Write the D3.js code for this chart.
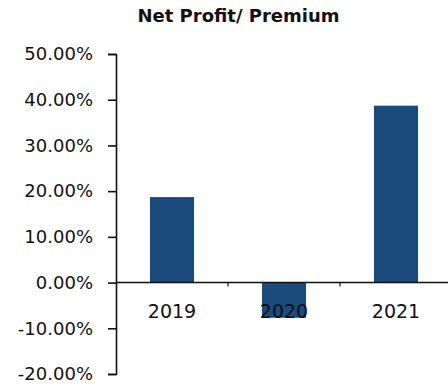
<!DOCTYPE html>
<html>
<head>
<meta charset="utf-8">
<script src="https://cdn.jsdelivr.net/npm/d3@7"></script>
<style>
  html, body { margin: 0; padding: 0; background: #fff; }
  svg { display: block; }
</style>
</head>
<body>
<svg id="chart" width="448" height="389"></svg>
<script>
// Net profit as a share of premium, by year
const years = ["2019", "2020", "2021"];
const ratios = [0.187, -0.077, 0.387];
const yTicks = [-0.2, -0.1, 0, 0.1, 0.2, 0.3, 0.4, 0.5];
const titleText = "Net Profit/ Premium";

const svg = d3.select("#chart");
const plotLeft = 116, plotRight = 452, plotTop = 54, plotBottom = 374;
const font = "'DejaVu Sans', Verdana, sans-serif";

// percent labels with a plain hyphen for negatives
const pct = d3.formatLocale({
  decimal: ".", thousands: ",", grouping: [3], currency: ["", ""], minus: "-"
}).format(".2%");

const x = d3.scaleBand()
  .domain(years)
  .range([plotLeft, plotRight])
  .paddingInner(0.607)
  .paddingOuter(0.3035);

const y = d3.scaleLinear()
  .domain([-0.2, 0.5])
  .range([plotBottom, plotTop]);

// title
svg.append("text")
  .attr("x", 238.5)
  .attr("y", 22)
  .attr("text-anchor", "middle")
  .attr("font-family", font)
  .attr("font-weight", "bold")
  .attr("font-size", 18)
  .attr("fill", "#111")
  .text(titleText);

// bars
svg.append("g")
  .selectAll("rect")
  .data(years.map((d, i) => ({ year: d, v: ratios[i] })))
  .join("rect")
  .attr("x", d => x(d.year))
  .attr("width", x.bandwidth())
  .attr("y", d => y(Math.max(0, d.v)))
  .attr("height", d => Math.abs(y(d.v) - y(0)))
  .attr("fill", "#1b4b7d");

// y axis
const yAxis = svg.append("g")
  .attr("transform", `translate(${plotLeft},0)`)
  .call(d3.axisLeft(y)
    .tickValues(yTicks)
    .tickFormat(pct)
    .tickSize(8)
    .tickPadding(15));
yAxis.select(".domain").attr("stroke", "#111").attr("stroke-width", 1.6);
yAxis.selectAll(".tick line").attr("stroke", "#111").attr("stroke-width", 1.6);
yAxis.selectAll(".tick text")
  .attr("font-family", font)
  .attr("font-size", 18)
  .attr("fill", "#111");

// x axis line at zero with ticks between categories
const zeroY = y(0);
svg.append("line")
  .attr("x1", plotLeft).attr("x2", 448)
  .attr("y1", zeroY).attr("y2", zeroY)
  .attr("stroke", "#111").attr("stroke-width", 1.6);

const gap = x.step() * x.paddingInner() / 2;
svg.append("g")
  .selectAll("line")
  .data(years.slice(1))
  .join("line")
  .attr("x1", d => x(d) - gap).attr("x2", d => x(d) - gap)
  .attr("y1", zeroY).attr("y2", zeroY + 4)
  .attr("stroke", "#111").attr("stroke-width", 1.2);

// category labels
svg.append("g")
  .selectAll("text")
  .data(years)
  .join("text")
  .attr("x", d => x(d) + x.bandwidth() / 2)
  .attr("y", zeroY + 35)
  .attr("text-anchor", "middle")
  .attr("font-family", font)
  .attr("font-size", 19)
  .attr("fill", "#111")
  .text(d => d);
</script>
</body>
</html>
